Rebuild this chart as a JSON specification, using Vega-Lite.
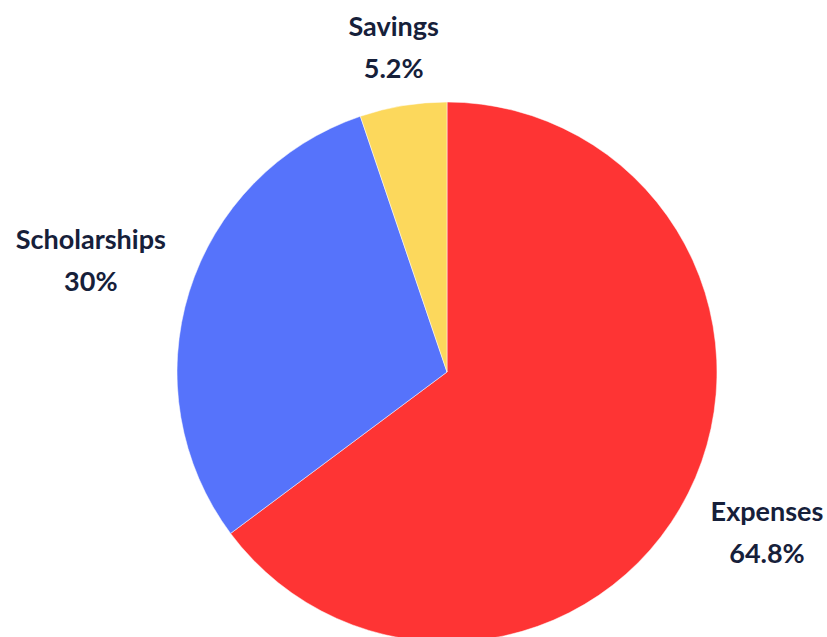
{
  "$schema": "https://vega.github.io/schema/vega-lite/v6.json",
  "width": 660,
  "height": 530,
  "autosize": {"type": "none"},
  "padding": {"left": 117, "top": 107, "right": 50, "bottom": 0},
  "background": "white",
  "config": {"view": {"stroke": null}},
  "data": {
    "values": [
      {"category": "Expenses", "share": 64.8, "rank": 1},
      {"category": "Scholarships", "share": 30, "rank": 2},
      {"category": "Savings", "share": 5.2, "rank": 3}
    ]
  },
  "transform": [
    {"calculate": "[datum.category, datum.share + '%']", "as": "label"}
  ],
  "encoding": {
    "theta": {"field": "share", "type": "quantitative", "stack": true},
    "order": {"field": "rank", "type": "quantitative"}
  },
  "layer": [
    {
      "mark": {"type": "arc", "outerRadius": 270, "stroke": "white", "strokeWidth": 0.5},
      "encoding": {
        "color": {
          "field": "category",
          "type": "nominal",
          "scale": {"domain": ["Expenses", "Scholarships", "Savings"], "range": ["#FE3434", "#5673FB", "#FCD85C"]},
          "legend": null
        }
      }
    },
    {
      "mark": {"type": "text", "radius": 358, "dy": -20, "font": "Lato", "fontSize": 27, "fontWeight": "bold", "lineHeight": 42, "color": "#16203a", "align": "center", "baseline": "middle"},
      "encoding": {
        "text": {"condition": {"test": "datum.category === 'Expenses'", "field": "label"}, "value": ""}
      }
    },
    {
      "mark": {"type": "text", "radius": 373, "dy": -20, "font": "Lato", "fontSize": 27, "fontWeight": "bold", "lineHeight": 42, "color": "#16203a", "align": "center", "baseline": "middle"},
      "encoding": {
        "text": {"condition": {"test": "datum.category === 'Scholarships'", "field": "label"}, "value": ""}
      }
    },
    {
      "mark": {"type": "text", "radius": 328, "dy": -20, "font": "Lato", "fontSize": 27, "fontWeight": "bold", "lineHeight": 42, "color": "#16203a", "align": "center", "baseline": "middle"},
      "encoding": {
        "text": {"condition": {"test": "datum.category === 'Savings'", "field": "label"}, "value": ""}
      }
    }
  ]
}
